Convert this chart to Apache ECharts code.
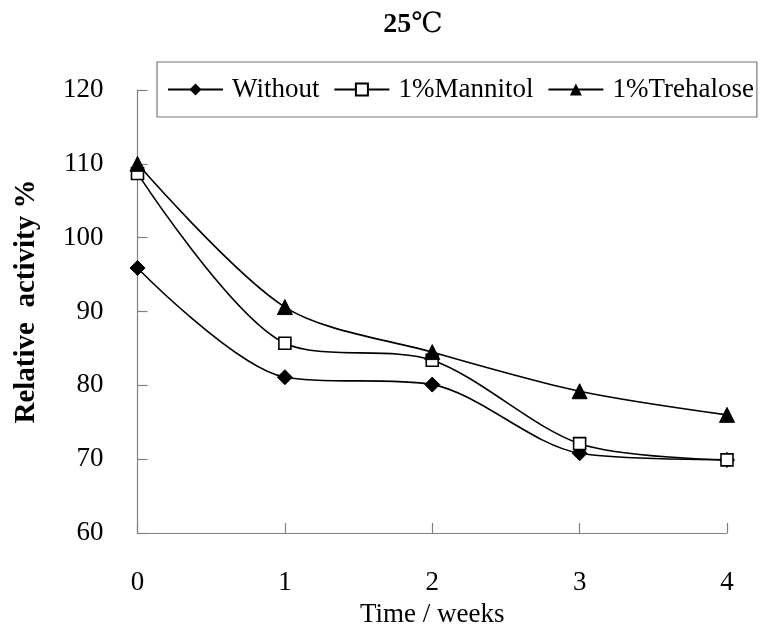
<!DOCTYPE html>
<html>
<head>
<meta charset="utf-8">
<script src="https://cdn.jsdelivr.net/npm/echarts@6/dist/echarts.min.js"></script>
<style>html,body{margin:0;padding:0;background:#fff}#c{width:760px;height:632px}</style>
</head>
<body>
<div id="c"></div>
<script>
const weeks = [0, 1, 2, 3, 4];
const seriesNames = ['Without', '1%Mannitol', '1%Trehalose'];
const without = [95.9, 81.1, 80.1, 70.8, 69.9];
const mannitol = [108.7, 85.7, 83.4, 72.1, 69.9];
const trehalose = [110.0, 90.6, 84.5, 79.2, 76.0];
const yTicks = [60, 70, 80, 90, 100, 110, 120];

const font = '"Liberation Serif", "Times New Roman", serif';
const chart = echarts.init(document.getElementById('c'), null, {renderer: 'canvas'});
const pairs = (vals) => weeks.map((w, i) => [w, vals[i]]);
const common = {
  type: 'line', smooth: 0.3,
  lineStyle: {color: '#000', width: 1.6},
  itemStyle: {color: '#000', borderColor: '#000'},
  z: 3
};
chart.setOption({
  animation: false,
  title: {
    text: '{b|25}{n|℃}',
    left: 408, top: 6, textAlign: 'center',
    textStyle: {
      fontWeight: 'normal',
      rich: {
        b: {fontFamily: font, fontWeight: 'bold', fontSize: 28, color: '#000'},
        n: {fontFamily: '"DejaVu Serif", serif', fontWeight: 'normal', fontSize: 28, color: '#000'}
      }
    }
  },
  legend: {
    left: 157, top: 62,
    width: 600,
    padding: [14, 3, 14, 10],
    borderColor: '#777', borderWidth: 1.2,
    itemWidth: 55, itemHeight: 15, itemGap: 14,
    textStyle: {fontFamily: font, fontSize: 27, color: '#000', padding: [0, 0, 0, 4]},
    data: seriesNames
  },
  grid: {left: 137.5, right: 33, top: 90, bottom: 99, containLabel: false, outerBoundsMode: 'none'},
  xAxis: {
    type: 'value', min: 0, max: 4, interval: 1,
    name: 'Time / weeks', nameLocation: 'middle', nameGap: 68,
    nameTextStyle: {fontFamily: font, fontSize: 27, color: '#000'},
    axisLine: {lineStyle: {color: '#808080', width: 1.2}},
    axisTick: {inside: true, length: 10, lineStyle: {color: '#808080', width: 1.2}},
    axisLabel: {fontFamily: font, fontSize: 27, color: '#000', margin: 36},
    splitLine: {show: false}
  },
  yAxis: {
    type: 'value', min: yTicks[0], max: yTicks[yTicks.length - 1], interval: 10,
    name: 'Relative  activity %', nameLocation: 'middle', nameGap: 96, nameRotate: 90,
    nameTextStyle: {fontFamily: font, fontSize: 29, fontWeight: 'bold', color: '#000', padding: [0, 0, 0, 20]},
    axisLine: {show: true, lineStyle: {color: '#808080', width: 1.2}},
    axisTick: {show: true, inside: true, length: 10, lineStyle: {color: '#808080', width: 1.2}},
    axisLabel: {fontFamily: font, fontSize: 27, color: '#000', margin: 34},
    splitLine: {show: false}
  },
  series: [
    Object.assign({}, common, {name: seriesNames[0], data: pairs(without), symbol: 'diamond', symbolSize: 15}),
    Object.assign({}, common, {name: seriesNames[1], data: pairs(mannitol), symbol: 'rect', symbolSize: 12,
      itemStyle: {color: '#fff', borderColor: '#000', borderWidth: 1.6}}),
    Object.assign({}, common, {name: seriesNames[2], data: pairs(trehalose), symbol: 'triangle', symbolSize: 15})
  ]
});
</script>
</body>
</html>
